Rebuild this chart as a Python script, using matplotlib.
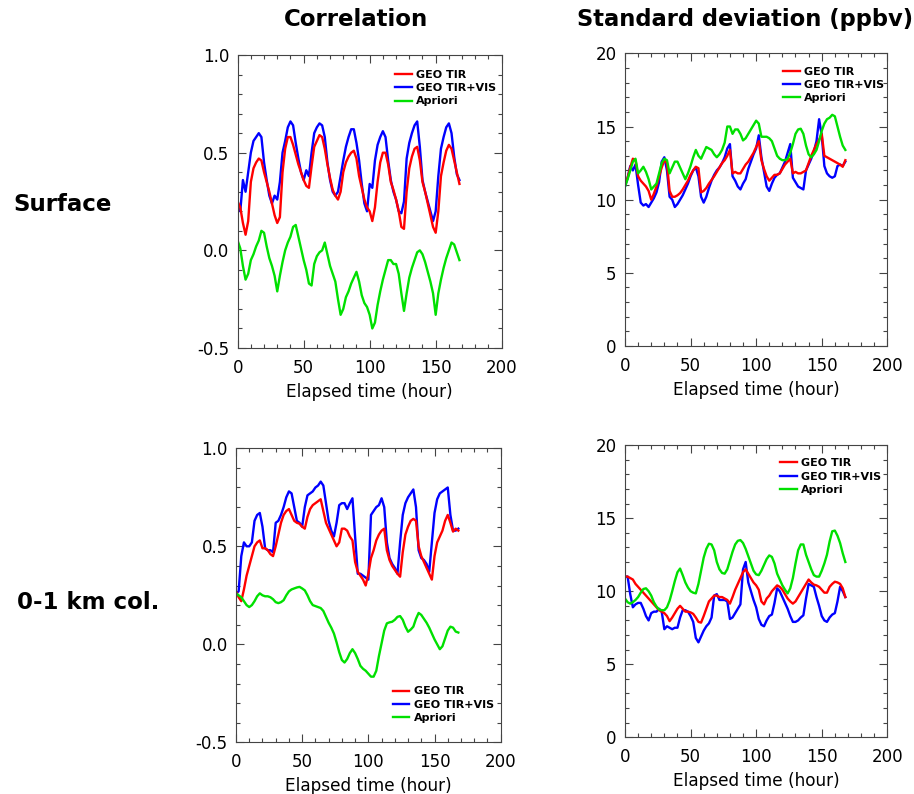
import numpy as np
import matplotlib
matplotlib.use('Agg')
import matplotlib.pyplot as plt
from matplotlib.ticker import MultipleLocator, FormatStrFormatter

# elapsed time (hour), sampled every 2 h
hours = np.arange(0, 169, 2)

# --- Surface: correlation ---
corr_sfc_tir = [0.25, 0.22, 0.14, 0.08, 0.15, 0.35, 0.42, 0.45, 0.47, 0.46,
                0.40, 0.35, 0.30, 0.24, 0.18, 0.14, 0.17, 0.40, 0.52, 0.58,
                0.58, 0.54, 0.49, 0.44, 0.40, 0.36, 0.33, 0.32, 0.43, 0.53,
                0.56, 0.59, 0.58, 0.52, 0.44, 0.37, 0.31, 0.28, 0.26, 0.30,
                0.40, 0.45, 0.48, 0.50, 0.51, 0.47, 0.38, 0.32, 0.26, 0.22,
                0.20, 0.15, 0.22, 0.35, 0.45, 0.50, 0.50, 0.44, 0.35, 0.31,
                0.26, 0.20, 0.12, 0.11, 0.30, 0.42, 0.48, 0.52, 0.53, 0.46,
                0.35, 0.30, 0.24, 0.18, 0.12, 0.09, 0.20, 0.38, 0.45, 0.51,
                0.54, 0.52, 0.46, 0.40, 0.34]
corr_sfc_tirvis = [0.22, 0.20, 0.36, 0.30, 0.40, 0.50, 0.56, 0.58, 0.60, 0.58,
                   0.45, 0.36, 0.28, 0.24, 0.28, 0.26, 0.35, 0.50, 0.56, 0.63,
                   0.66, 0.64, 0.55, 0.47, 0.40, 0.36, 0.41, 0.38, 0.50, 0.60,
                   0.63, 0.65, 0.64, 0.58, 0.45, 0.36, 0.30, 0.28, 0.30, 0.38,
                   0.46, 0.53, 0.58, 0.62, 0.62, 0.55, 0.46, 0.34, 0.24, 0.20,
                   0.34, 0.32, 0.46, 0.54, 0.58, 0.61, 0.58, 0.46, 0.36, 0.30,
                   0.26, 0.20, 0.19, 0.25, 0.47, 0.55, 0.60, 0.64, 0.66, 0.53,
                   0.36, 0.30, 0.25, 0.20, 0.15, 0.20, 0.38, 0.52, 0.58, 0.63,
                   0.65, 0.60, 0.48, 0.39, 0.36]
corr_sfc_apriori = [0.05, 0.01, -0.08, -0.15, -0.12, -0.05, -0.02, 0.02, 0.05, 0.10,
                    0.09, 0.02, -0.04, -0.08, -0.13, -0.21, -0.13, -0.06, 0.00, 0.04,
                    0.07, 0.12, 0.13, 0.07, 0.01, -0.05, -0.10, -0.17, -0.18, -0.07,
                    -0.03, -0.01, 0.00, 0.04, -0.02, -0.08, -0.12, -0.16, -0.25, -0.33,
                    -0.30, -0.24, -0.21, -0.17, -0.14, -0.11, -0.16, -0.23, -0.27, -0.29,
                    -0.33, -0.40, -0.37, -0.28, -0.21, -0.15, -0.10, -0.05, -0.05, -0.07,
                    -0.07, -0.12, -0.22, -0.31, -0.22, -0.14, -0.09, -0.05, -0.01, 0.00,
                    -0.02, -0.06, -0.11, -0.16, -0.22, -0.33, -0.22, -0.15, -0.09, -0.04,
                    0.00, 0.04, 0.03, -0.01, -0.05]

# --- Surface: standard deviation (ppbv) ---
std_sfc_tir = [11.0, 11.5, 12.2, 12.8, 12.7, 11.6, 11.3, 11.1, 10.9, 10.6,
               10.0, 10.4, 10.9, 11.6, 12.2, 12.7, 12.5, 10.6, 10.2, 10.2,
               10.3, 10.45, 10.7, 11.0, 11.3, 11.7, 12.0, 12.25, 12.15, 10.5,
               10.6, 10.8, 11.1, 11.35, 11.6, 11.9, 12.2, 12.5, 12.7, 13.0,
               13.4, 11.8, 11.9, 11.8, 11.8, 12.1, 12.4, 12.6, 12.9, 13.2,
               13.6, 14.0, 12.7, 12.1, 11.6, 11.3, 11.5, 11.7, 11.7, 11.8,
               12.1, 12.4, 12.6, 12.8, 11.8, 11.9, 11.8, 11.8, 11.9, 12.0,
               12.5, 13.0, 13.4, 13.8, 14.1, 14.5, 13.0, 12.9, 12.8, 12.7,
               12.6, 12.5, 12.4, 12.25, 12.7]
std_sfc_tirvis = [10.9, 11.5, 12.3, 12.0, 12.4, 11.0, 9.8, 9.6, 9.7, 9.5,
                  9.8, 10.1, 10.5, 11.2, 12.6, 12.9, 12.0, 10.2, 10.0, 9.5,
                  9.7, 10.0, 10.3, 10.7, 11.1, 11.6, 12.0, 12.2, 11.6, 10.2,
                  9.8, 10.2, 10.8, 11.3, 11.7, 12.0, 12.2, 12.5, 12.9, 13.5,
                  13.8, 11.6, 11.3, 10.9, 10.7, 11.1, 11.4, 12.1, 12.6, 13.1,
                  13.5, 14.4, 12.9, 11.9, 10.9, 10.6, 11.1, 11.5, 11.7, 11.8,
                  12.2, 12.6, 13.2, 13.8, 11.5, 11.2, 10.9, 10.8, 10.7, 12.0,
                  12.4, 12.8, 13.3, 14.0, 15.5, 14.4, 12.3, 11.8, 11.6, 11.5,
                  11.6, 12.3, 12.4, 12.3, 12.6]
std_sfc_apriori = [10.9, 11.4, 12.0, 12.6, 12.8, 11.8, 12.0, 12.25, 11.9, 11.4,
                   10.7, 10.9, 11.1, 11.8, 12.5, 12.8, 12.7, 11.8, 12.2, 12.6,
                   12.6, 12.2, 11.8, 11.4, 11.8, 12.3, 12.9, 13.4, 13.0, 12.8,
                   13.2, 13.6, 13.5, 13.4, 13.1, 12.9, 13.1, 13.4, 13.9, 15.0,
                   15.0, 14.5, 14.8, 14.8, 14.5, 14.05, 14.2, 14.5, 14.8, 15.1,
                   15.4, 15.2, 14.3, 14.3, 14.3, 14.2, 14.0, 13.5, 13.0, 12.8,
                   12.7, 12.7, 12.8, 13.2, 13.8, 14.5, 14.8, 14.85, 14.5, 13.7,
                   13.1, 12.9, 13.1, 13.4, 14.0, 14.7, 15.2, 15.5, 15.6, 15.8,
                   15.7, 15.0, 14.3, 13.7, 13.4]

# --- 0-1 km column: correlation ---
corr_col_tir = [0.27, 0.24, 0.22, 0.28, 0.35, 0.40, 0.45, 0.50, 0.52, 0.53,
                0.49, 0.49, 0.48, 0.46, 0.45, 0.50, 0.56, 0.62, 0.66, 0.68,
                0.69, 0.66, 0.63, 0.62, 0.615, 0.60, 0.59, 0.65, 0.69, 0.71,
                0.72, 0.73, 0.74, 0.68, 0.62, 0.59, 0.56, 0.53, 0.50, 0.52,
                0.59, 0.59, 0.58, 0.55, 0.53, 0.42, 0.37, 0.35, 0.33, 0.30,
                0.36, 0.44, 0.48, 0.53, 0.56, 0.58, 0.59, 0.48, 0.43, 0.40,
                0.38, 0.36, 0.345, 0.47, 0.56, 0.60, 0.63, 0.64, 0.63, 0.50,
                0.45, 0.42, 0.39, 0.36, 0.33, 0.45, 0.52, 0.55, 0.58, 0.63,
                0.66, 0.62, 0.575, 0.59, 0.58]
corr_col_tirvis = [0.26, 0.27, 0.45, 0.52, 0.50, 0.50, 0.52, 0.63, 0.66, 0.67,
                   0.60, 0.49, 0.48, 0.48, 0.47, 0.62, 0.63, 0.66, 0.70, 0.75,
                   0.78, 0.77, 0.70, 0.63, 0.62, 0.60, 0.70, 0.76, 0.77, 0.78,
                   0.80, 0.81, 0.83, 0.81, 0.72, 0.63, 0.58, 0.55, 0.62, 0.71,
                   0.72, 0.72, 0.69, 0.72, 0.745, 0.55, 0.36, 0.36, 0.35, 0.34,
                   0.33, 0.66, 0.68, 0.70, 0.71, 0.745, 0.70, 0.52, 0.44, 0.41,
                   0.39, 0.36, 0.52, 0.66, 0.72, 0.75, 0.77, 0.79, 0.70, 0.48,
                   0.44, 0.43, 0.41, 0.37, 0.52, 0.67, 0.74, 0.77, 0.78, 0.79,
                   0.80, 0.66, 0.58, 0.58, 0.59]
corr_col_apriori = [0.26, 0.25, 0.24, 0.22, 0.20, 0.19, 0.20, 0.22, 0.245, 0.26,
                    0.25, 0.245, 0.245, 0.24, 0.23, 0.215, 0.21, 0.215, 0.225, 0.25,
                    0.27, 0.28, 0.285, 0.29, 0.293, 0.285, 0.275, 0.25, 0.22, 0.20,
                    0.195, 0.19, 0.185, 0.17, 0.14, 0.11, 0.085, 0.055, 0.01, -0.04,
                    -0.08, -0.093, -0.075, -0.045, -0.025, -0.045, -0.075, -0.11, -0.125, -0.135,
                    -0.15, -0.165, -0.165, -0.135, -0.06, 0.005, 0.07, 0.107, 0.112, 0.115,
                    0.125, 0.14, 0.144, 0.125, 0.09, 0.064, 0.075, 0.09, 0.13, 0.16,
                    0.15, 0.13, 0.11, 0.085, 0.055, 0.025, 0.0, -0.025, -0.01, 0.03,
                    0.07, 0.09, 0.085, 0.065, 0.06]

# --- 0-1 km column: standard deviation (ppbv) ---
std_col_tir = [11.0, 11.0, 10.9, 10.8, 10.5, 10.3, 10.1, 9.9, 9.7, 9.5,
               9.3, 9.1, 8.9, 8.7, 8.6, 8.5, 8.3, 7.95, 8.2, 8.5,
               8.8, 9.0, 8.8, 8.6, 8.6, 8.55, 8.45, 8.2, 7.9, 7.85,
               8.3, 8.8, 9.3, 9.5, 9.7, 9.7, 9.6, 9.6, 9.5, 9.4,
               9.15, 9.6, 10.1, 10.5, 10.9, 11.3, 11.5, 11.2, 10.9, 10.6,
               10.4, 10.1, 9.3, 9.1, 9.5, 9.7, 10.0, 10.2, 10.4, 10.3,
               10.1, 9.8, 9.5, 9.3, 9.15, 9.3, 9.6, 9.9, 10.2, 10.5,
               10.8, 10.6, 10.45, 10.4, 10.3, 10.1, 9.9, 9.9, 10.3, 10.5,
               10.65, 10.6, 10.5, 10.2, 9.6]
std_col_tirvis = [11.0, 11.0, 9.8, 8.9, 9.1, 9.2, 9.2, 8.8, 8.3, 8.0,
                  8.5, 8.6, 8.6, 8.8, 8.6, 7.4, 7.6, 7.5, 7.4, 7.5,
                  7.5, 8.2, 8.7, 8.7, 8.6, 8.3, 7.9, 6.8, 6.5, 6.9,
                  7.3, 7.6, 7.8, 8.2, 9.7, 9.8, 9.4, 9.4, 9.4, 9.3,
                  8.1, 8.2, 8.5, 8.8, 9.1, 11.5, 12.0, 10.6, 10.0, 9.4,
                  8.9, 8.1, 7.7, 7.6, 8.0, 8.3, 8.4, 9.2, 10.2, 10.0,
                  9.6, 9.2, 8.8, 8.3, 7.9, 7.9, 8.0, 8.2, 8.35, 9.5,
                  10.5, 10.4, 10.3, 9.6, 9.0, 8.3, 8.0, 7.9, 8.2, 8.4,
                  8.5, 9.3, 10.3, 10.0, 9.6]
std_col_apriori = [9.5, 9.25, 9.15, 9.25, 9.4, 9.6, 9.9, 10.15, 10.2, 10.0,
                   9.7, 9.25, 8.95, 8.75, 8.7, 8.7, 8.9, 9.35, 10.0, 10.7,
                   11.3, 11.55, 11.1, 10.6, 10.25, 10.0, 9.9, 9.85, 10.5, 11.4,
                   12.3, 12.9, 13.25, 13.2, 12.8, 12.0, 11.5, 11.25, 11.2, 11.5,
                   12.1, 12.7, 13.2, 13.45, 13.5, 13.3, 12.9, 12.4, 11.9, 11.4,
                   11.15, 11.1, 11.4, 11.8, 12.2, 12.45, 12.35, 11.9, 11.2, 10.8,
                   10.4, 10.1, 9.85, 10.2, 10.9, 11.9, 12.8, 13.2, 13.2, 12.5,
                   12.0, 11.5, 11.1, 11.0, 11.0, 11.4, 11.9, 12.5, 13.4, 14.1,
                   14.15, 13.8, 13.3, 12.6, 12.0]

labels = ['GEO TIR', 'GEO TIR+VIS', 'Apriori']
colors = ['#ff0000', '#0000ff', '#00e000']

fig = plt.figure(figsize=(9.14, 7.94), dpi=100)

panels = [
    # rect, tir, tirvis, apriori, ylim, major, minor, fmt, legend anchor
    ([0.260, 0.5617, 0.2889, 0.369], corr_sfc_tir, corr_sfc_tirvis, corr_sfc_apriori,
     (-0.5, 1.0), 0.5, 0.1, '%.1f', (0.58, 0.965)),
    ([0.6838, 0.5642, 0.287, 0.3686], std_sfc_tir, std_sfc_tirvis, std_sfc_apriori,
     (0, 20), 5, 1, '%d', (0.585, 0.97)),
    ([0.2582, 0.0651, 0.2896, 0.3703], corr_col_tir, corr_col_tirvis, corr_col_apriori,
     (-0.5, 1.0), 0.5, 0.1, '%.1f', (0.575, 0.205)),
    ([0.6838, 0.0714, 0.287, 0.368], std_col_tir, std_col_tirvis, std_col_apriori,
     (0, 20), 5, 1, '%d', (0.575, 0.97)),
]

for rect, tir, tirvis, apr, ylim, major, minor, fmt, anchor in panels:
    ax = fig.add_axes(rect)
    # blue under red, as in the original
    l_vis, = ax.plot(hours, tirvis, color=colors[1], lw=1.7)
    l_tir, = ax.plot(hours, tir, color=colors[0], lw=1.7)
    l_apr, = ax.plot(hours, apr, color=colors[2], lw=1.7)
    ax.set_xlim(0, 200)
    ax.set_ylim(*ylim)
    ax.xaxis.set_major_locator(MultipleLocator(50))
    ax.xaxis.set_minor_locator(MultipleLocator(10))
    ax.yaxis.set_major_locator(MultipleLocator(major))
    ax.yaxis.set_minor_locator(MultipleLocator(minor))
    ax.yaxis.set_major_formatter(FormatStrFormatter(fmt))
    ax.tick_params(which='both', direction='in', top=True, right=True,
                   color='#444444', width=0.8)
    ax.tick_params(which='major', length=6, labelsize=12)
    ax.tick_params(which='minor', length=3)
    ax.tick_params(axis='x', which='major', pad=8)
    ax.tick_params(axis='y', which='major', pad=6)
    for s in ax.spines.values():
        s.set_color('#444444')
        s.set_linewidth(0.8)
    ax.set_xlabel('Elapsed time (hour)', fontsize=12.2, labelpad=4)
    ax.legend([l_tir, l_vis, l_apr], labels, loc='upper left', bbox_to_anchor=anchor,
              frameon=False, handlelength=1.5, handletextpad=0.4, labelspacing=0.3,
              borderaxespad=0, prop={'weight': 'bold', 'size': 8})

fig.text(0.390, 0.975, 'Correlation', ha='center', va='center',
         fontsize=16.5, fontweight='bold')
fig.text(0.815, 0.975, 'Standard deviation (ppbv)', ha='center', va='center',
         fontsize=16.3, fontweight='bold')
fig.text(0.068, 0.742, 'Surface', ha='center', va='center',
         fontsize=16.5, fontweight='bold')
fig.text(0.096, 0.241, '0-1 km col.', ha='center', va='center',
         fontsize=16.5, fontweight='bold')

plt.savefig('out.png', dpi=100)
